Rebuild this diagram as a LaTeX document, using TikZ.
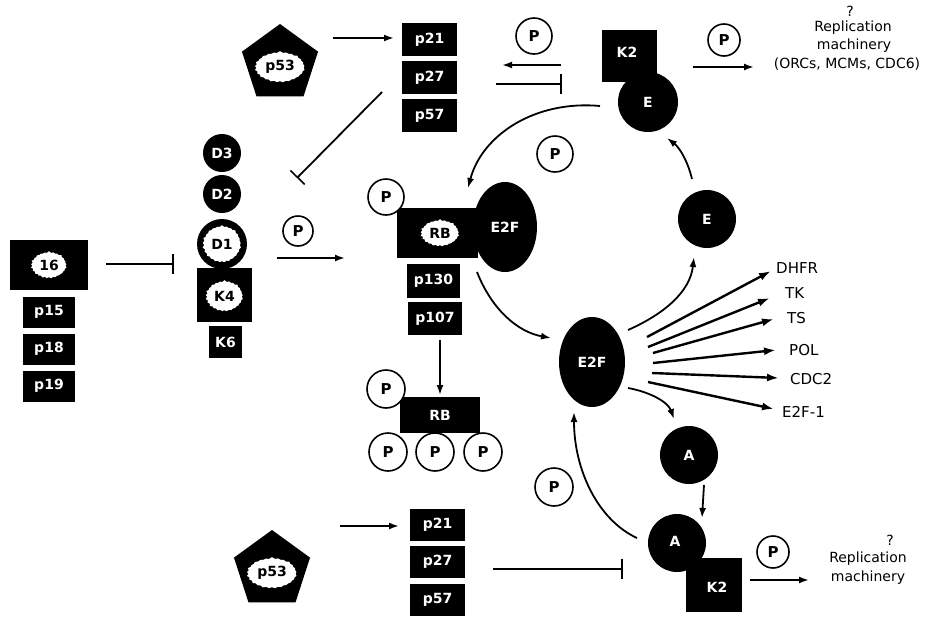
\documentclass[tikz,border=0pt]{standalone}
\usepackage{fontspec}
\setmainfont{DejaVu Sans}
\usetikzlibrary{arrows.meta,shapes.geometric,shapes.symbols}
\begin{document}
\begin{tikzpicture}[x=1pt,y=-1pt,
  wfont/.style={font=\bfseries\fontsize{14}{16}\selectfont},
  bx/.style={rectangle, fill=black, text=white, wfont, inner sep=0pt, minimum width=55pt, minimum height=33pt},
  sbx/.style={bx, minimum width=52pt, minimum height=31pt},
  pc/.style={circle, draw=black, line width=1.6pt, fill=white, inner sep=0pt, minimum size=34pt, font=\bfseries\fontsize{15}{16}\selectfont},
  blk/.style={circle, fill=black, text=white, wfont, inner sep=0pt},
  blob/.style={starburst, starburst points=25, starburst point height=1.8pt, random starburst=7, fill=white, text=black, inner sep=2pt, minimum width=34pt, minimum height=28pt, wfont},
  pent/.style={regular polygon, regular polygon sides=5, fill=black, inner sep=0pt, minimum size=80pt},
  oval/.style={ellipse, fill=black, text=white, wfont, inner sep=0pt},
  lbl/.style={font=\fontsize{14}{16}\selectfont, inner sep=0pt},
  flbl/.style={font=\fontsize{15}{17}\selectfont, inner sep=0pt, anchor=west},
  arr/.style={-{Latex[length=10pt,width=7pt]}, line width=1.8pt},
  farr/.style={-{Latex[length=12pt,width=8pt]}, line width=2.4pt},
  inh/.style={-{Bar[width=20pt,line width=1.6pt]}, line width=1.8pt}
]
\useasboundingbox (0,0) rectangle (943,619);

% ---------- left group ----------
\node[bx, minimum width=78pt, minimum height=50pt] (p16) at (49,265) {};
\node[blob, minimum width=30pt, minimum height=28pt] (p16b) at (49,265) {16};
\node[sbx] (p15) at (49,312) {p15};
\node[sbx] (p18) at (49,349) {p18};
\node[sbx] (p19) at (49,386) {p19};
\coordinate (i1s) at (106,264);
\coordinate (i1e) at (174,264);
\draw[inh] (i1s) -- (i1e);

\node[blk, minimum size=38pt] (d3) at (222,153) {D3};
\node[blk, minimum size=38pt] (d2) at (222,194) {D2};
\node[rectangle, fill=black, minimum width=55pt, minimum height=54pt] (k4) at (224.5,295) {};
\node[blob, minimum width=34pt, minimum height=32pt] (k4b) at (224.5,296) {K4};
\node[blk, minimum size=50pt] (d1) at (222,244) {};
\node[blob, minimum width=38pt, minimum height=38pt] (d1b) at (222,244) {D1};
\node[bx, minimum width=33pt, minimum height=32pt] (k6) at (225.5,342) {K6};

\node[pc, minimum size=30pt] (pd) at (298,231) {P};
\coordinate (a1s) at (277,258);
\coordinate (a1e) at (345,258);
\draw[arr] (a1s) -- (a1e);

% ---------- top row ----------
\node[pent] (p53t) at (280,64) {};
\node[blob, minimum width=40pt, minimum height=32pt] (p53tb) at (280,67) {p53};
\coordinate (a2s) at (333,38);
\coordinate (a2e) at (394,38);
\draw[arr] (a2s) -- (a2e);
\node[bx] (p21t) at (429.5,39.5) {p21};
\node[bx] (p27t) at (429.5,77.5) {p27};
\node[bx] (p57t) at (429.5,115.5) {p57};
\coordinate (i2s) at (382,92);
\coordinate (i2e) at (297,178);
\draw[inh] (i2s) -- (i2e);

\node[pc, minimum size=36pt] (pt1) at (534,36) {P};
\coordinate (a3s) at (561,65);
\coordinate (a3e) at (502,65);
\draw[arr] (a3s) -- (a3e);
\coordinate (i3s) at (496,84);
\coordinate (i3e) at (562,84);
\draw[inh] (i3s) -- (i3e);

\node[rectangle, fill=black, minimum width=55pt, minimum height=52pt] (k2t) at (629.5,56) {};
\node[blk, minimum size=60pt] (et) at (648,102) {E};
\node[text=white, wfont, inner sep=0pt] (k2tl) at (627,52) {K2};

\node[pc, minimum size=32pt] (pt2) at (724,40) {P};
\coordinate (a4s) at (693,67);
\coordinate (a4e) at (754,67);
\draw[arr] (a4s) -- (a4e);
\node[lbl] (q1) at (850,11) {?};
\node[lbl] (rep1) at (853,28) {Replication};
\node[lbl] (mach1) at (854,46) {machinery};
\node[lbl] (orc) at (847,64) {(ORCs, MCMs, CDC6)};

% ---------- RB / E2F complex ----------
\node[pc, minimum size=36pt] (pc1) at (555,154) {P};
\coordinate (c1s) at (600,106);
\coordinate (c1e) at (468,188);
\draw[arr] (c1s) .. controls (535,100) and (482,135) .. (c1e);

\node[rectangle, fill=black, minimum width=81pt, minimum height=50pt] (rb1) at (437.5,233) {};
\node[oval, minimum width=64pt, minimum height=90pt] (e2fa) at (505,227) {E2F};
\node[blob, minimum width=36pt, minimum height=28pt] (rb1b) at (440,233) {RB};
\node[pc, minimum size=36pt] (prb) at (386,197) {P};
\node[bx, minimum width=53pt, minimum height=34pt] (p130) at (433.5,281) {p130};
\node[bx, minimum width=54pt, minimum height=33pt] (p107) at (435,318.5) {p107};
\coordinate (a5s) at (440,340);
\coordinate (a5e) at (440,395);
\draw[arr] (a5s) -- (a5e);

\node[rectangle, fill=black, text=white, wfont, minimum width=80pt, minimum height=36pt] (rb2) at (440,415) {RB};
\node[pc, minimum size=38pt] (pr0) at (386,389) {P};
\node[pc, minimum size=38pt] (pr1) at (388,452) {P};
\node[pc, minimum size=38pt] (pr2) at (435,452) {P};
\node[pc, minimum size=38pt] (pr3) at (483,452) {P};

% ---------- free E2F ----------
\coordinate (c2s) at (477,272);
\coordinate (c2e) at (551,338);
\draw[arr] (c2s) .. controls (492,310) and (518,332) .. (c2e);
\node[oval, minimum width=66pt, minimum height=90pt] (e2f) at (592,362) {E2F};

\node[blk, minimum size=58pt] (em) at (707,219) {E};
\coordinate (c3s) at (628,330);
\coordinate (c3e) at (694,257);
\draw[arr] (c3s) .. controls (664,314) and (690,292) .. (c3e);
\coordinate (c4s) at (692,179);
\coordinate (c4e) at (667,138);
\draw[arr] (c4s) .. controls (688,162) and (680,148) .. (c4e);

% fan of targets
\node[flbl] (dhfr) at (776,268) {DHFR};
\node[flbl] (tk) at (785,293) {TK};
\node[flbl] (ts) at (787,318) {TS};
\node[flbl] (pol) at (789,350) {POL};
\node[flbl] (cdc2) at (790,379) {CDC2};
\node[flbl] (e2f1) at (782,412) {E2F-1};
\coordinate (f1s) at (647,337); \coordinate (f1e) at (771,271);
\coordinate (f2s) at (648,347); \coordinate (f2e) at (770,298);
\coordinate (f3s) at (653,353); \coordinate (f3e) at (774,319);
\coordinate (f4s) at (653,363); \coordinate (f4e) at (776,350);
\coordinate (f5s) at (652,373); \coordinate (f5e) at (779,378);
\coordinate (f6s) at (648,382); \coordinate (f6e) at (774,409);
\draw[farr] (f1s) -- (f1e);
\draw[farr] (f2s) -- (f2e);
\draw[farr] (f3s) -- (f3e);
\draw[farr] (f4s) -- (f4e);
\draw[farr] (f5s) -- (f5e);
\draw[farr] (f6s) -- (f6e);

% ---------- cyclin A ----------
\coordinate (c5s) at (628,388);
\coordinate (c5e) at (674,419);
\draw[arr] (c5s) .. controls (650,392) and (668,402) .. (c5e);
\node[blk, minimum size=58pt] (au) at (689,455) {A};
\coordinate (a6s) at (704,485);
\coordinate (a6e) at (702,518);
\draw[arr] (a6s) -- (a6e);
\node[blk, minimum size=58pt] (al) at (677,543) {};
\node[rectangle, fill=black, minimum width=56pt, minimum height=54pt] (k2b) at (714,585) {};
\node[text=white, wfont, inner sep=0pt] (all) at (675,541) {A};
\node[text=white, wfont, inner sep=0pt] (k2bl) at (717,587) {K2};

\node[pc, minimum size=38pt] (pc2) at (554,487) {P};
\coordinate (c6s) at (637,538);
\coordinate (c6e) at (574,412);
\draw[arr] (c6s) .. controls (598,520) and (574,470) .. (c6e);

% ---------- bottom row ----------
\node[pent] (p53b) at (272,570) {};
\node[blob, minimum width=40pt, minimum height=32pt] (p53bb) at (272,573) {p53};
\coordinate (a7s) at (340,526);
\coordinate (a7e) at (399,526);
\draw[arr] (a7s) -- (a7e);
\node[bx, minimum height=32pt] (p21b) at (437.5,525) {p21};
\node[bx, minimum height=32pt] (p27b) at (437.5,562) {p27};
\node[bx, minimum height=32pt] (p57b) at (437.5,600) {p57};
\coordinate (i4s) at (493,569);
\coordinate (i4e) at (623,569);
\draw[inh] (i4s) -- (i4e);

\node[pc, minimum size=32pt] (pb) at (773,552) {P};
\coordinate (a8s) at (750,580);
\coordinate (a8e) at (809,580);
\draw[arr] (a8s) -- (a8e);
\node[lbl] (q2) at (890,540) {?};
\node[lbl] (rep2) at (868,559) {Replication};
\node[lbl] (mach2) at (868,578) {machinery};
\end{tikzpicture}
\end{document}
